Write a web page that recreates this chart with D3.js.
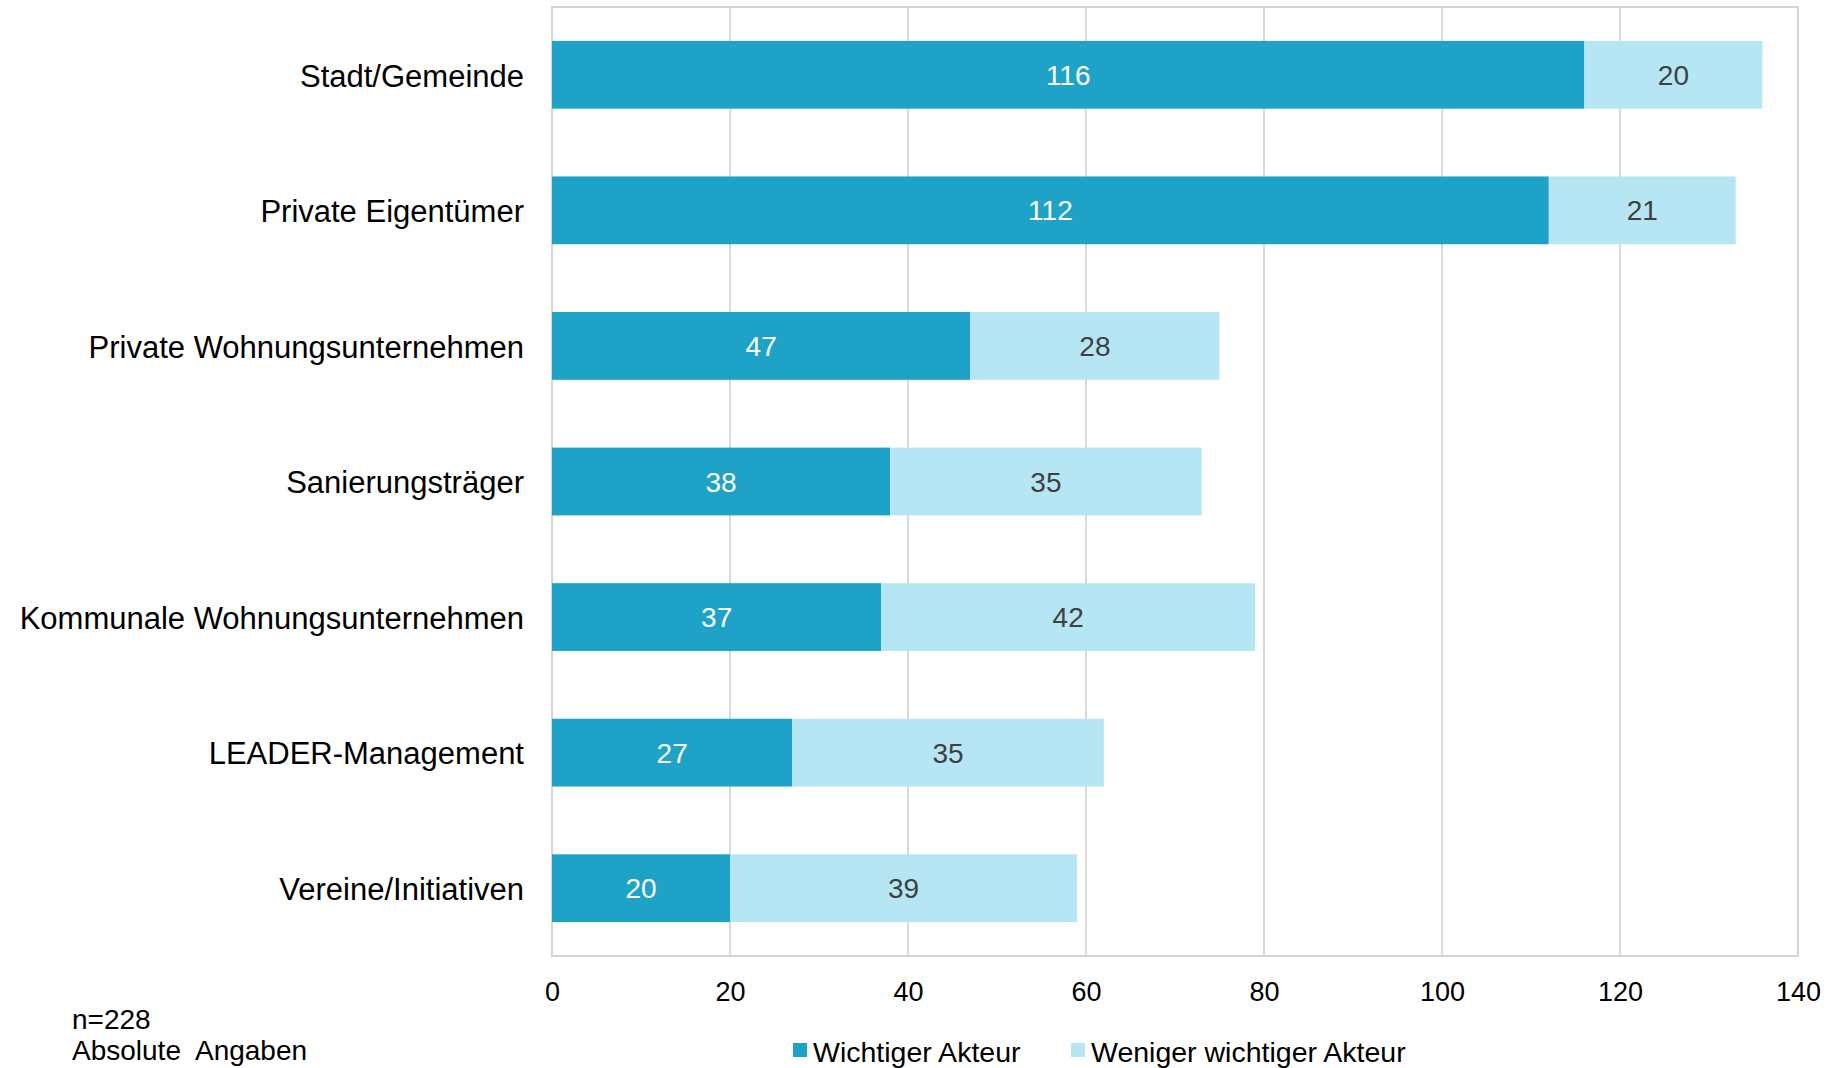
<!DOCTYPE html>
<html>
<head>
<meta charset="utf-8">
<script src="https://cdn.jsdelivr.net/npm/d3@7"></script>
<style>
body { margin: 0; background: #fff; }
text { font-family: "Liberation Sans", Arial, sans-serif; }
</style>
</head>
<body>
<div id="chart"></div>
<script>
var categories = ["Stadt/Gemeinde", "Private Eigentümer", "Private Wohnungsunternehmen", "Sanierungsträger",
	"Kommunale Wohnungsunternehmen", "LEADER-Management", "Vereine/Initiativen"];
var wichtig = [116, 112, 47, 38, 37, 27, 20];
var weniger = [20, 21, 28, 35, 42, 35, 39];
var seriesNames = ["Wichtiger Akteur", "Weniger wichtiger Akteur"];
var xTicks = [0, 20, 40, 60, 80, 100, 120, 140];
var notes = ["n=228", "Absolute  Angaben"];

var W = 1829, H = 1068;
var pLeft = 552, pRight = 1798, pTop = 7, pBottom = 956;
var colors = ["#1fa2c7", "#b6e6f3"];

var svg = d3.select("#chart").append("svg").attr("width", W).attr("height", H);

var x = d3.scaleLinear().domain([0, 140]).range([pLeft, pRight]);
var y = d3.scaleBand().domain(categories).range([pTop, pBottom]).paddingInner(0.5).paddingOuter(0.25);

// gitter
svg.append("g").selectAll("line").data(xTicks.slice(1, -1)).join("line")
	.attr("x1", d => x(d)).attr("x2", d => x(d))
	.attr("y1", pTop).attr("y2", pBottom)
	.attr("stroke", "#d9d9d9").attr("stroke-width", 2);

svg.append("rect").attr("x", pLeft).attr("y", pTop).attr("width", pRight - pLeft).attr("height", pBottom - pTop)
	.attr("fill", "none").attr("stroke", "#d4d4d4").attr("stroke-width", 2);

// balken
var rows = categories.map(function(c, i) { return {cat: c, a: wichtig[i], b: weniger[i]}; });
var g = svg.append("g");
rows.forEach(function(r) {
	var yy = y(r.cat), h = y.bandwidth();
	g.append("rect").attr("x", x(0)).attr("y", yy).attr("width", x(r.a) - x(0)).attr("height", h).attr("fill", colors[0]);
	g.append("rect").attr("x", x(r.a)).attr("y", yy).attr("width", x(r.a + r.b) - x(r.a)).attr("height", h).attr("fill", colors[1]);
	g.append("text").attr("x", (x(0) + x(r.a)) / 2).attr("y", yy + h / 2).attr("dy", "0.36em")
		.attr("text-anchor", "middle").attr("font-size", 28).attr("fill", "#fff").text(r.a);
	g.append("text").attr("x", (x(r.a) + x(r.a + r.b)) / 2).attr("y", yy + h / 2).attr("dy", "0.36em")
		.attr("text-anchor", "middle").attr("font-size", 28).attr("fill", "#404040").text(r.b);
});

// achsen
var yAxis = svg.append("g").attr("transform", "translate(" + pLeft + ",0)")
	.call(d3.axisLeft(y).tickSize(0).tickPadding(28));
yAxis.select(".domain").remove();
yAxis.selectAll("text").attr("font-size", 31).attr("dy", "0.38em").attr("fill", "#000")
	.attr("font-family", "Liberation Sans, Arial, sans-serif");

var xAxis = svg.append("g").attr("transform", "translate(0," + pBottom + ")")
	.call(d3.axisBottom(x).tickValues(xTicks).tickSize(0).tickPadding(26));
xAxis.select(".domain").remove();
xAxis.selectAll("text").attr("font-size", 27).attr("fill", "#000").attr("font-family", "Liberation Sans, Arial, sans-serif");

// hinweis
svg.append("text").attr("x", 72).attr("y", 1029).attr("font-size", 28).attr("fill", "#000").text(notes[0]);
svg.append("text").attr("x", 72).attr("y", 1060).attr("font-size", 28).attr("fill", "#000")
	.attr("xml:space", "preserve").text(notes[1]);

// legende
var legX = [793, 1071];
seriesNames.forEach(function(n, i) {
	svg.append("rect").attr("x", legX[i]).attr("y", 1043).attr("width", 14).attr("height", 14).attr("fill", colors[i]);
	svg.append("text").attr("x", legX[i] + 20).attr("y", 1062).attr("font-size", 28.5).attr("fill", "#000").text(n);
});
</script>
</body>
</html>
